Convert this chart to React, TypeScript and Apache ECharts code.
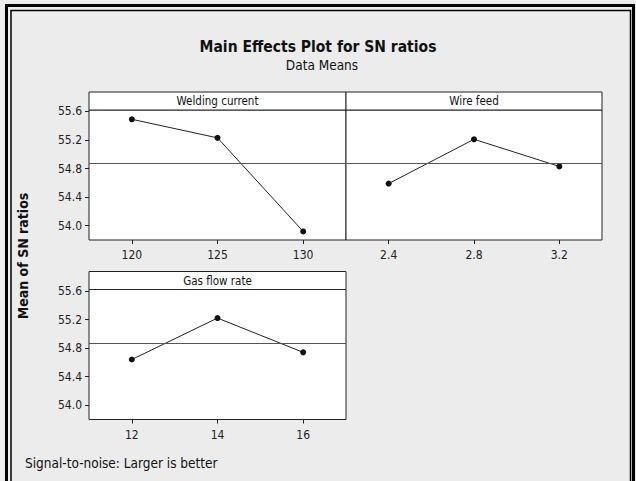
import React, { useEffect, useRef } from "react";
import * as echarts from "echarts";

const weldingCurrent = [120, 125, 130];
const weldingSN = [55.49, 55.23, 53.92];
const wireFeed = [2.4, 2.8, 3.2];
const wireSN = [54.59, 55.21, 54.83];
const gasFlow = [12, 14, 16];
const gasSN = [54.64, 55.22, 54.74];

const yTicks = [54.0, 54.4, 54.8, 55.2, 55.6];
const panelNames = ["Welding current", "Wire feed", "Gas flow rate"];

const FONT = "'DejaVu Sans Condensed', 'DejaVu Sans', sans-serif";

export default function App() {
  const ref = useRef<HTMLDivElement>(null);
  useEffect(() => {
    if (!ref.current) return;
    const chart = echarts.init(ref.current, undefined, { renderer: "svg" });
    const all = [...weldingSN, ...wireSN, ...gasSN];
    const grandMean = all.reduce((a, b) => a + b, 0) / all.length;

    const panels = [
      { xs: weldingCurrent, ys: weldingSN, min: 117.5, max: 132.5, left: 89, top: 110, width: 257, yLabels: true },
      { xs: wireFeed, ys: wireSN, min: 2.2, max: 3.4, left: 346, top: 110, width: 256, yLabels: false },
      { xs: gasFlow, ys: gasSN, min: 11, max: 17, left: 89, top: 289.5, width: 257, yLabels: true },
    ];
    const H = 130;
    const HEAD = 18;

    const grid = panels.map((p) => ({
      left: p.left,
      top: p.top,
      width: p.width,
      height: H,
      show: true,
      backgroundColor: "#ffffff",
      borderColor: "#222",
      borderWidth: 1,
    }));

    const xAxis = panels.map((p, i) => ({
      type: "value",
      gridIndex: i,
      min: p.min,
      max: p.max,
      splitLine: { show: false },
      axisLine: { show: false },
      axisTick: { show: true, length: 4, inside: false, customValues: p.xs, lineStyle: { color: "#222" } },
      axisLabel: {
        show: true,
        customValues: p.xs,
        margin: 9,
        fontSize: 12,
        color: "#222",
        fontFamily: FONT,
        formatter: (v: number) => String(v),
      },
    }));

    const yAxis = panels.map((p, i) => ({
      type: "value",
      gridIndex: i,
      min: 53.8,
      max: 55.62,
      splitLine: { show: false },
      axisLine: { show: false },
      axisTick: { show: p.yLabels, length: 4, customValues: yTicks, lineStyle: { color: "#222" } },
      axisLabel: {
        show: p.yLabels,
        customValues: yTicks,
        margin: 7,
        fontSize: 12,
        color: "#222",
        fontFamily: FONT,
        formatter: (v: number) => v.toFixed(1),
      },
    }));

    const series = panels.map((p, i) => ({
      type: "line",
      xAxisIndex: i,
      yAxisIndex: i,
      data: p.xs.map((x, j) => [x, p.ys[j]]),
      symbol: "circle",
      symbolSize: 6,
      itemStyle: { color: "#111" },
      lineStyle: { color: "#222", width: 1 },
      markLine: {
        silent: true,
        symbol: "none",
        label: { show: false },
        lineStyle: { color: "#555", width: 1, type: "solid" },
        data: [{ yAxis: grandMean }],
      },
    }));

    const graphic: any[] = [
      { type: "rect", shape: { x: 6.5, y: 5.5, width: 627, height: 500 }, style: { fill: "none", stroke: "#000", lineWidth: 3 }, z: 10 },
      { type: "rect", shape: { x: 11, y: 10.5, width: 619.5, height: 490 }, style: { fill: "none", stroke: "#000", lineWidth: 1.5 }, z: 10 },
      { type: "text", x: 318, y: 47, style: { text: "Main Effects Plot for SN ratios", fontSize: 15.5, fontWeight: "bold", fontFamily: FONT, fill: "#111", align: "center", verticalAlign: "middle" } },
      { type: "text", x: 322, y: 65, style: { text: "Data Means", fontSize: 13.5, fontFamily: FONT, fill: "#111", align: "center", verticalAlign: "middle" } },
      { type: "text", x: 23, y: 256, rotation: Math.PI / 2, style: { text: "Mean of SN ratios", fontSize: 14, fontWeight: "bold", fontFamily: FONT, fill: "#111", align: "center", verticalAlign: "middle" } },
      { type: "text", x: 25, y: 463, style: { text: "Signal-to-noise: Larger is better", fontSize: 13.5, fontFamily: FONT, fill: "#111", align: "left", verticalAlign: "middle" } },
    ];
    panels.forEach((p, i) => {
      graphic.push({
        type: "rect",
        shape: { x: p.left, y: p.top - HEAD, width: p.width, height: HEAD },
        style: { fill: "#fff", stroke: "#222", lineWidth: 1 },
      });
      graphic.push({
        type: "text",
        x: p.left + p.width / 2,
        y: p.top - HEAD / 2,
        style: { text: panelNames[i], fontSize: 11.5, fontFamily: FONT, fill: "#111", align: "center", verticalAlign: "middle" },
      });
    });

    chart.setOption({
      animation: false,
      backgroundColor: "#ececec",
      grid,
      xAxis,
      yAxis,
      series,
      graphic,
    });
    return () => chart.dispose();
  }, []);
  return <div ref={ref} style={{ position: "fixed", left: 0, top: 0, width: 636, height: 481 }} />;
}
